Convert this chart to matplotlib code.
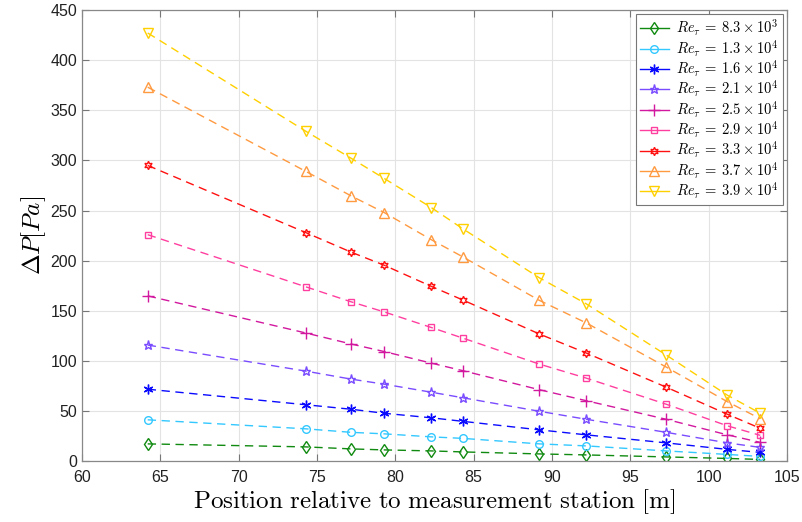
import numpy as np
import matplotlib
matplotlib.use("Agg")
import matplotlib.pyplot as plt
from matplotlib.lines import Line2D

plt.rcParams['mathtext.fontset'] = 'cm'
plt.rcParams['font.family'] = ['Liberation Sans', 'DejaVu Sans']

# positions [m]
x = [64.2, 74.3, 77.2, 79.3, 82.3, 84.3, 89.2, 92.2, 97.3, 101.2, 103.3]

# pressure drop [Pa] per Re_tau
dp_83e3 = [17.5, 14.5, 12.5, 11.5, 10.5, 9.5, 7.5, 6.5, 4.5, 3, 2]
dp_13e4 = [41.5, 32.5, 29, 27.5, 24.5, 23, 17.5, 15.5, 10.5, 7, 5]
dp_16e4 = [72, 56.5, 52, 48, 43.5, 40, 31.5, 26.5, 18.5, 12, 9]
dp_21e4 = [116, 90, 82, 77, 69, 63.5, 50, 42, 29, 18.5, 14]
dp_25e4 = [165, 128, 117, 109.5, 98, 90.5, 71.5, 60.5, 42, 26.5, 19]
dp_29e4 = [226, 174, 159, 149, 133.5, 123, 97, 83, 57, 35.5, 26]
dp_33e4 = [295, 228, 208.5, 195.5, 174.5, 161, 127, 108, 74, 47, 33]
dp_37e4 = [373, 289, 264.5, 248, 221, 204, 160.5, 138, 94, 59.5, 42.5]
dp_39e4 = [427, 329, 302, 282, 253, 232, 183, 157, 106, 66, 48]

series = [dp_83e3, dp_13e4, dp_16e4, dp_21e4, dp_25e4, dp_29e4, dp_33e4, dp_37e4, dp_39e4]
labels = [r'$Re_\tau\:=\:8.3\times10^3$', r'$Re_\tau\:=\:1.3\times10^4$',
          r'$Re_\tau\:=\:1.6\times10^4$', r'$Re_\tau\:=\:2.1\times10^4$',
          r'$Re_\tau\:=\:2.5\times10^4$', r'$Re_\tau\:=\:2.9\times10^4$',
          r'$Re_\tau\:=\:3.3\times10^4$', r'$Re_\tau\:=\:3.7\times10^4$',
          r'$Re_\tau\:=\:3.9\times10^4$']
colors = ['#108a10', '#33c8ff', '#0a0aff', '#7a4cff', '#d2189e',
          '#ff3f9f', '#ff1010', '#ff9a40', '#ffd000']
markers = ['d', 'o', (6, 2, 0), '*', '+', 's', (6, 1, 0), '^', 'v']
msizes = [6, 5.5, 7, 6.5, 8, 5, 6, 6.5, 6.5]

fig = plt.figure(figsize=(8.03, 5.22), dpi=100)
ax = fig.add_axes([0.102, 0.116, 0.878, 0.865])

handles = []
for y, lab, c, m, ms in zip(series, labels, colors, markers, msizes):
    ax.plot(x, y, linestyle='--', dashes=(6, 4), color=c, lw=1.0,
            marker=m, markersize=ms, markerfacecolor='none',
            markeredgecolor=c, markeredgewidth=1.0)
    handles.append(Line2D([], [], color=c, lw=1.0, marker=m, markersize=ms,
                          markerfacecolor='none', markeredgecolor=c,
                          markeredgewidth=1.0, label=lab))

ax.set_xlim(60, 105)
ax.set_ylim(0, 450)
ax.set_xticks(np.arange(60, 106, 5))
ax.set_yticks(np.arange(0, 451, 50))
ax.grid(True, color='#e3e3e3', lw=0.8)
ax.set_axisbelow(True)
ax.tick_params(direction='in', top=True, right=True, labelsize=11.5,
               length=5, color='#777777', labelcolor='#222222')
ax.tick_params(axis='x', pad=6)
for s in ax.spines.values():
    s.set_color('#888888')
    s.set_linewidth(0.9)

ax.set_xlabel(r'$\mathrm{Position\ relative\ to\ measurement\ station\ [m]}$',
              fontsize=18, labelpad=2)
ax.set_ylabel(r'$\Delta P[Pa]$', fontsize=18, labelpad=2)

leg = ax.legend(handles=handles, loc='upper right', fontsize=10.5,
                fancybox=False, framealpha=1, edgecolor='#777777',
                handlelength=2.0, handletextpad=0.5, borderpad=0.25,
                labelspacing=0.0, borderaxespad=0.3)
leg.get_frame().set_linewidth(0.8)

fig.savefig('out.png', dpi=100)
